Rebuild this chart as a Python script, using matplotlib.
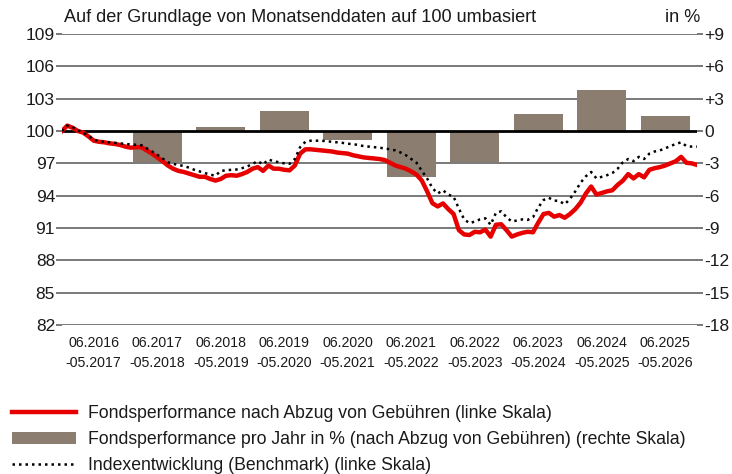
import matplotlib
matplotlib.use("Agg")
import matplotlib.pyplot as plt
from matplotlib.lines import Line2D
from matplotlib.patches import Patch
import numpy as np

plt.rcParams['font.family'] = ['Liberation Sans', 'DejaVu Sans']

# Categories (one bar per year, x tick labels)
periods = ["06.2016\n-05.2017", "06.2017\n-05.2018", "06.2018\n-05.2019",
           "06.2019\n-05.2020", "06.2020\n-05.2021", "06.2021\n-05.2022",
           "06.2022\n-05.2023", "06.2023\n-05.2024", "06.2024\n-05.2025",
           "06.2025\n-05.2026"]

# Yearly fund performance in % (right scale), first year has no value
yearly_perf = [np.nan, -2.9, 0.4, 1.9, -0.8, -4.3, -2.9, 1.6, 3.8, 1.4]

# Monthly fund performance after fees, rebased to 100 (left scale)
fund = [100.0, 100.5, 100.3, 100.0, 99.85, 99.5, 99.1, 99.0, 98.95, 98.85,
        98.8, 98.7, 98.55, 98.45, 98.5, 98.5, 98.2, 97.9, 97.55, 97.2,
        96.8, 96.5, 96.3, 96.2, 96.05, 95.9, 95.75, 95.75, 95.55, 95.4,
        95.55, 95.85, 95.9, 95.85, 96.0, 96.2, 96.5, 96.65, 96.3, 96.8,
        96.5, 96.5, 96.4, 96.35, 96.8, 97.9, 98.3, 98.3, 98.25, 98.2,
        98.15, 98.1, 98.0, 97.95, 97.9, 97.75, 97.65, 97.55, 97.5, 97.45,
        97.4, 97.3, 97.05, 96.8, 96.65, 96.5, 96.25, 95.95, 95.4, 94.4,
        93.3, 93.0, 93.28, 92.75, 92.3, 90.8, 90.4, 90.35, 90.65, 90.6,
        90.85, 90.2, 91.3, 91.35, 90.8, 90.2, 90.4, 90.55, 90.65, 90.6,
        91.5, 92.3, 92.4, 92.05, 92.2, 91.95, 92.3, 92.75, 93.35, 94.2,
        94.85, 94.1, 94.25, 94.4, 94.5, 95.0, 95.4, 96.0, 95.6, 96.0,
        95.7, 96.4, 96.55, 96.65, 96.8, 97.0, 97.2, 97.6, 97.05, 97.0,
        96.85]

# Monthly benchmark index, rebased to 100 (left scale)
index = [100.0, 100.5, 100.35, 100.05, 99.85, 99.55, 99.2, 99.05, 99.0, 98.95,
         98.9, 98.85, 98.8, 98.75, 98.72, 98.68, 98.4, 98.1, 97.8, 97.45,
         97.1, 96.95, 96.85, 96.75, 96.6, 96.4, 96.25, 96.1, 95.95, 95.85,
         96.3, 96.35, 96.4, 96.43, 96.55, 96.7, 96.95, 97.2, 96.9, 97.35,
         97.2, 97.1, 97.0, 96.95, 97.4, 98.5, 99.0, 99.1, 99.1, 99.1,
         99.05, 99.0, 98.95, 98.9, 98.82, 98.78, 98.7, 98.6, 98.55, 98.5,
         98.45, 98.38, 98.3, 98.2, 98.0, 97.75, 97.4, 97.05, 96.3, 95.6,
         94.7, 94.2, 94.5, 94.1, 93.9, 92.8, 91.8, 91.45, 91.6, 91.8,
         91.9, 91.3, 92.4, 92.55, 92.0, 91.6, 91.7, 91.8, 91.75, 92.0,
         92.9, 93.6, 93.8, 93.55, 93.5, 93.2, 93.7, 94.4, 95.2, 95.8,
         96.2, 95.6, 95.75, 95.9, 96.1, 96.5, 97.1, 97.4, 97.2, 97.6,
         97.4, 97.9, 98.1, 98.2, 98.4, 98.6, 98.8, 98.95, 98.6, 98.55,
         98.55]

left_ticks = list(range(82, 110, 3))
right_ticks = list(range(-18, 10, 3))

RED = "#e60000"
BROWN = "#8b7d70"
GRID = "#6e6e6e"
TXT = "#1a1a1a"

fig = plt.figure(figsize=(7.32, 4.74), dpi=100)
ax = fig.add_axes([62 / 732, 1 - 325 / 474, 635 / 732, 291 / 474])
ax2 = ax.twinx()

# left axis: index lines, right axis: bars
ax.set_ylim(82, 109)
ax2.set_ylim(-18, 9)
ax.set_xlim(-0.5, 9.5)

for t in left_ticks:
    if t == 100:
        continue
    ax.axhline(t, color=GRID, lw=1.3, zorder=1)

ax2.bar(np.arange(len(periods)), yearly_perf, width=0.77, color=BROWN, zorder=2)
ax2.axhline(0, color="black", lw=2.0, zorder=3)

months = -0.5 + np.arange(len(fund)) / 12
ax2.plot(months, np.array(fund) - 100, color=RED, lw=3.2, zorder=4,
         solid_joinstyle="round")
ax2.plot(months, np.array(index) - 100, color="black", lw=1.8, ls=(0, (1, 1.6)),
         zorder=5)

ax.set_yticks(left_ticks)
ax.set_yticklabels([str(t) for t in left_ticks])
ax2.set_yticks(right_ticks)
ax2.set_yticklabels([("+%d" % t if t > 0 else ("0" if t == 0 else "-%d" % -t))
                     for t in right_ticks])
ax.set_xticks(np.arange(len(periods)))
ax.set_xticklabels(periods, linespacing=1.55)

for a in (ax, ax2):
    for s in a.spines.values():
        s.set_visible(False)
    a.tick_params(axis="y", length=4, width=1.3, color=GRID, labelsize=12.5,
                  pad=1, labelcolor=TXT)
    a.tick_params(axis="x", length=0, labelsize=10.2, pad=8, labelcolor=TXT)
ax.set_zorder(ax2.get_zorder() - 1)
ax.patch.set_visible(False)

fig.text(64 / 732, 1 - 17 / 474, "Auf der Grundlage von Monatsenddaten auf 100 umbasiert",
         fontsize=13.1, va="center", ha="left", color=TXT)
fig.text(700 / 732, 1 - 17 / 474, "in %", fontsize=13.1, va="center", ha="right",
         color=TXT)

handles = [
    Line2D([], [], color=RED, lw=3.2),
    Patch(facecolor=BROWN, edgecolor="none"),
    Line2D([], [], color="black", lw=1.8, ls=(0, (1, 1.6))),
]
labels = [
    "Fondsperformance nach Abzug von Gebühren (linke Skala)",
    "Fondsperformance pro Jahr in % (nach Abzug von Gebühren) (rechte Skala)",
    "Indexentwicklung (Benchmark) (linke Skala)",
]
fig.legend(handles, labels, loc="upper left", bbox_to_anchor=(5 / 732, 1 - 398 / 474),
           frameon=False, fontsize=12.7, handlelength=3.6, handletextpad=0.7,
           labelspacing=0.5, borderaxespad=0, labelcolor=TXT)

fig.savefig("out.png", dpi=100)
